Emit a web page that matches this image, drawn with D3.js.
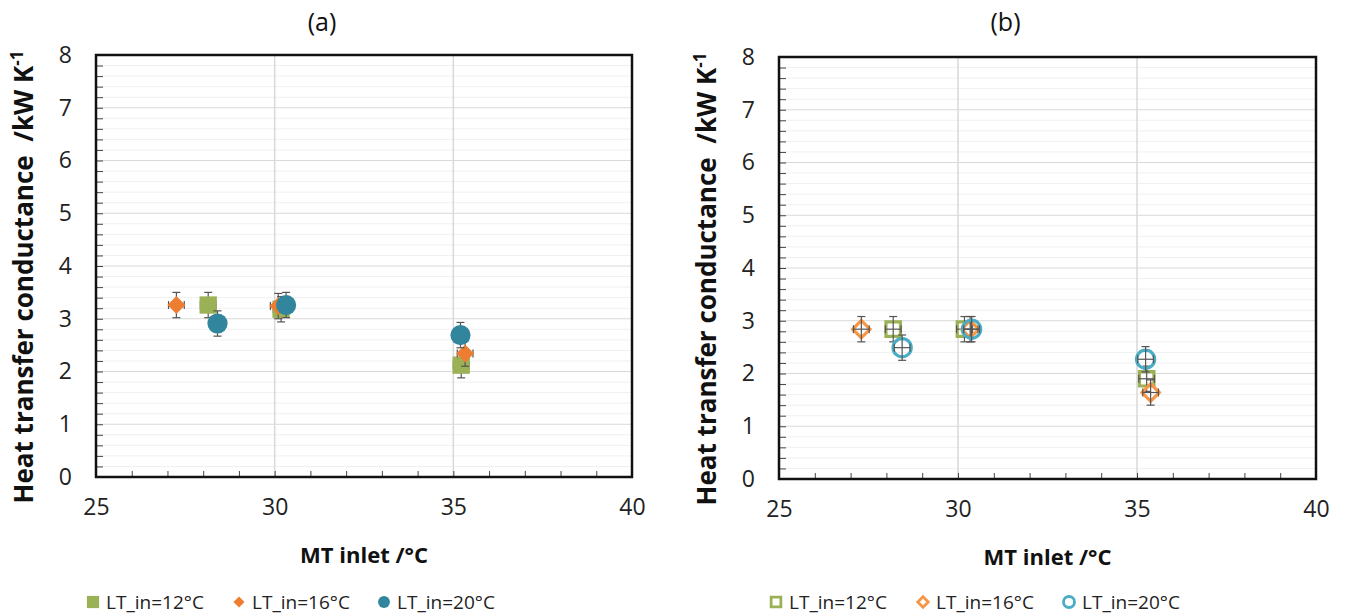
<!DOCTYPE html>
<html>
<head>
<meta charset="utf-8">
<script src="https://cdn.jsdelivr.net/npm/d3@7"></script>
<style>
  body { margin: 0; background: #fff; }
  svg { display: block; font-family: "Open Sans", sans-serif; }
</style>
</head>
<body>
<div id="chart"></div>
<script>
// data, panel (a) filled markers
const seriesNames = ["LT_in=12°C", "LT_in=16°C", "LT_in=20°C"];
const aX12 = [28.14, 30.18, 35.22];
const aY12 = [3.26, 3.18, 2.12];
const aX16 = [27.25, 30.1, 35.33];
const aY16 = [3.26, 3.24, 2.34];
const aX20 = [28.4, 30.32, 35.2];
const aY20 = [2.91, 3.26, 2.69];
// panel (b) hollow markers
const bX12 = [28.19, 30.18, 35.27];
const bY12 = [2.84, 2.84, 1.9];
const bX16 = [27.3, 30.34, 35.38];
const bY16 = [2.84, 2.84, 1.64];
const bX20 = [28.44, 30.38, 35.24];
const bY20 = [2.49, 2.84, 2.27];
const xErr = 0.22;
const yErr = 0.24;
const xTicks = [25, 30, 35, 40];
const yTicks = [0, 1, 2, 3, 4, 5, 6, 7, 8];

const W = 1347, H = 616;
const svg = d3.select("#chart").append("svg").attr("width", W).attr("height", H);

function panel(opt) {
  const x = d3.scaleLinear().domain([25, 40]).range([opt.left, opt.right]);
  const y = d3.scaleLinear().domain([0, 8]).range([opt.bottom, opt.top]);
  const g = svg.append("g");

  // gridlines
  g.selectAll(".minor").data(d3.range(0, 8.01, 0.2)).enter()
    .append("line")
    .attr("x1", opt.left).attr("x2", opt.right)
    .attr("y1", d => y(d)).attr("y2", d => y(d))
    .attr("stroke", d => Math.abs(d - Math.round(d)) < 0.01 ? "#d9d9d9" : "#f0f0f0")
    .attr("stroke-width", 1);
  g.selectAll(".vgrid").data([30, 35]).enter()
    .append("line")
    .attr("x1", d => x(d)).attr("x2", d => x(d))
    .attr("y1", opt.top).attr("y2", opt.bottom)
    .attr("stroke", "#d9d9d9").attr("stroke-width", 1.5);

  // axes with inward ticks
  const yMinor = d3.axisLeft(y).tickValues(d3.range(0, 8.01, 0.2)).tickSize(-7).tickFormat("");
  g.append("g").attr("transform", `translate(${opt.left},0)`).call(yMinor)
    .call(a => a.select(".domain").remove())
    .call(a => a.selectAll("line").attr("stroke", "#444"));
  const xMinor = d3.axisBottom(x).tickValues(d3.range(25, 40.01, 1)).tickSize(-6).tickFormat("");
  g.append("g").attr("transform", `translate(0,${opt.bottom})`).call(xMinor)
    .call(a => a.select(".domain").remove())
    .call(a => a.selectAll("line").attr("stroke", "#444"));

  const yAxis = d3.axisLeft(y).tickValues(yTicks).tickSize(0).tickPadding(opt.left - opt.yLabelRight);
  g.append("g").attr("transform", `translate(${opt.left},0)`).call(yAxis)
    .call(a => a.select(".domain").remove())
    .call(a => a.selectAll("text").attr("font-size", 23).attr("fill", "#222")
      .attr("font-family", "Open Sans"));
  const xAxis = d3.axisBottom(x).tickValues(xTicks).tickSize(0).tickPadding(22);
  g.append("g").attr("transform", `translate(0,${opt.bottom})`).call(xAxis)
    .call(a => a.select(".domain").remove())
    .call(a => a.selectAll("text").attr("font-size", 23).attr("fill", "#222")
      .attr("font-family", "Open Sans"));

  // frame
  g.append("rect")
    .attr("x", opt.left).attr("y", opt.top)
    .attr("width", opt.right - opt.left).attr("height", opt.bottom - opt.top)
    .attr("fill", "none").attr("stroke", "#111").attr("stroke-width", 2.5);

  // title
  g.append("text").attr("x", (opt.left + opt.right) / 2 - 42).attr("y", 31)
    .attr("text-anchor", "middle").attr("font-size", 25).attr("fill", "#111").text(opt.title);

  // axis labels
  g.append("text").attr("x", (opt.left + opt.right) / 2).attr("y", opt.bottom + 86)
    .attr("text-anchor", "middle").attr("font-size", 22).attr("font-weight", "bold")
    .attr("fill", "#111").text("MT inlet /°C");
  const yl = g.append("text")
    .attr("transform", `translate(${opt.yTitleX},${(opt.top + opt.bottom) / 2 + 11}) rotate(-90)`)
    .attr("text-anchor", "middle").attr("font-size", 26).attr("font-weight", "bold").attr("fill", "#111");
  yl.append("tspan").text("Heat transfer conductance\u00a0\u00a0/kW K");
  yl.append("tspan").attr("dy", -10).attr("font-size", 17).text("-1");

  // error bars + markers
  opt.series.forEach((s, i) => {
    const pts = s.xs.map((v, k) => [v, s.ys[k]]);
    const eb = g.append("g").attr("stroke", "#555").attr("stroke-width", 1.2);
    const cap = 4;
    pts.forEach(p => {
      eb.append("line").attr("x1", x(p[0] - xErr)).attr("x2", x(p[0] + xErr))
        .attr("y1", y(p[1])).attr("y2", y(p[1]));
      eb.append("line").attr("x1", x(p[0])).attr("x2", x(p[0]))
        .attr("y1", y(p[1] - yErr)).attr("y2", y(p[1] + yErr));
      [p[0] - xErr, p[0] + xErr].forEach(v => eb.append("line")
        .attr("x1", x(v)).attr("x2", x(v)).attr("y1", y(p[1]) - cap).attr("y2", y(p[1]) + cap));
      [p[1] - yErr, p[1] + yErr].forEach(v => eb.append("line")
        .attr("x1", x(p[0]) - cap).attr("x2", x(p[0]) + cap).attr("y1", y(v)).attr("y2", y(v)));
    });
    const sym = d3.symbol().type(s.shape).size(s.size);
    const marks = opt.filled ? g.append("g") : g.insert("g", () => eb.node());
    marks.selectAll("path").data(pts).enter().append("path")
      .attr("d", sym)
      .attr("transform", d => `translate(${x(d[0])},${y(d[1])})` + (s.diamond ? " rotate(45)" : ""))
      .attr("fill", opt.filled ? s.color : "none")
      .attr("stroke", opt.filled ? "none" : s.color)
      .attr("stroke-width", opt.filled ? 0 : 3.2);
    if (opt.filled) marks.raise();
  });

  // legend
  opt.series.forEach((s, i) => {
    const lx = opt.legendX[i];
    const sym = d3.symbol().type(s.shape).size(s.legendSize);
    g.append("path").attr("d", sym)
      .attr("transform", `translate(${lx},${opt.legendY - 7})` + (s.diamond ? " rotate(45)" : ""))
      .attr("fill", opt.filled ? s.color : "none")
      .attr("stroke", opt.filled ? "none" : s.color)
      .attr("stroke-width", opt.filled ? 0 : 2.8);
    g.append("text").attr("x", lx + 13).attr("y", opt.legendY)
      .attr("font-size", 19).attr("fill", "#222").text(seriesNames[i]);
  });
}

panel({
  left: 96, right: 632, top: 55, bottom: 477, yLabelRight: 72, yTitleX: 33,
  title: "(a)", filled: true, legendX: [93, 239, 384], legendY: 609,
  series: [
    { xs: aX12, ys: aY12, color: "#9bb155", shape: d3.symbolSquare, size: 300, legendSize: 150 },
    { xs: aX16, ys: aY16, color: "#ed7d31", shape: d3.symbolSquare, diamond: true, size: 160, legendSize: 60 },
    { xs: aX20, ys: aY20, color: "#31859c", shape: d3.symbolCircle, size: 320, legendSize: 110 }
  ]
});

panel({
  left: 779, right: 1316, top: 57, bottom: 479, yLabelRight: 755, yTitleX: 716,
  title: "(b)", filled: false, legendX: [776, 923, 1069], legendY: 609,
  series: [
    { xs: bX12, ys: bY12, color: "#9bb155", shape: d3.symbolSquare, size: 210, legendSize: 95 },
    { xs: bX16, ys: bY16, color: "#f79646", shape: d3.symbolSquare, diamond: true, size: 150, legendSize: 55 },
    { xs: bX20, ys: bY20, color: "#4bacc6", shape: d3.symbolCircle, size: 260, legendSize: 95 }
  ]
});
</script>
</body>
</html>
